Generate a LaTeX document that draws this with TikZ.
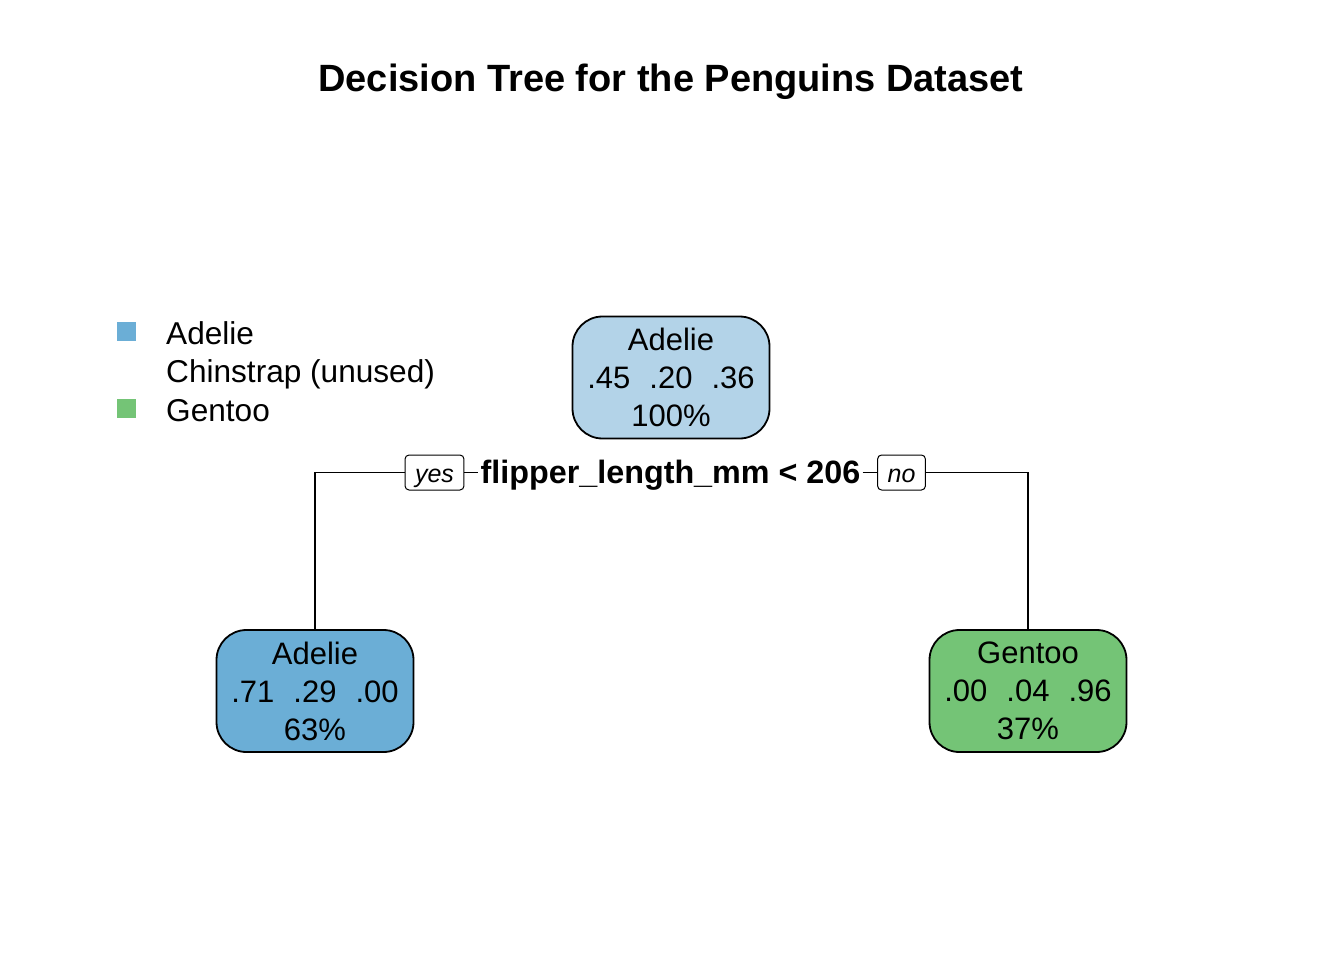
\documentclass[tikz,border=0pt]{standalone}
\usepackage{fontspec}
\setmainfont{Liberation Sans}
\usepackage{tikz}

\definecolor{rootblue}{RGB}{179,211,232}
\definecolor{adelieblue}{RGB}{107,174,214}
\definecolor{gentoogreen}{RGB}{116,196,118}

\newcommand{\gap}{\hspace{19pt}}

\begin{document}
\begin{tikzpicture}[x=1pt,y=-1pt,
  treebox/.style={draw=black, line width=1.8pt, rounded corners=30pt, minimum width=197pt, minimum height=122pt, inner sep=0pt, align=center, font=\fontsize{31}{38}\selectfont},
  yesno/.style={draw=black, line width=1pt, rounded corners=4pt, minimum height=35pt, text height=27pt, text depth=7pt, inner xsep=10pt, inner ysep=0pt, font=\fontsize{25}{30}\selectfont\itshape},
  legsq/.style={minimum size=19pt, inner sep=0pt},
  legtext/.style={anchor=base west, inner sep=0pt, font=\fontsize{31.6}{38}\selectfont},
  edge/.style={line width=1.4pt}]

\useasboundingbox (0,0) rectangle (1344,960);

\node[font=\fontsize{38}{44}\selectfont\bfseries] (title) at (671,82) {Decision Tree for the Penguins Dataset};

\node[legsq, fill=adelieblue] (sqA) at (126,331) {};
\node[legsq, fill=gentoogreen] (sqG) at (126,408) {};
\node[legtext] (legA) at (166,344) {Adelie};
\node[legtext] (legC) at (166,382.5) {Chinstrap (unused)};
\node[legtext] (legG) at (166,421) {Gentoo};

\node[treebox, fill=rootblue] (root) at (671,377.5) {Adelie\\.45\gap.20\gap.36\\100\%};
\node[treebox, fill=adelieblue] (left) at (315,691) {Adelie\\.71\gap.29\gap.00\\63\%};
\node[treebox, fill=gentoogreen] (right) at (1028,691) {Gentoo\\.00\gap.04\gap.96\\37\%};

\node[font=\fontsize{32.3}{38}\selectfont\bfseries, text height=26pt, text depth=4pt, inner xsep=2pt, inner ysep=0pt] (split) at (670.5,472.5) {flipper\_length\_mm < 206};
\node[yesno] (yes) at (434.5,472.5) {yes};
\node[yesno] (no) at (901.5,472.5) {no};

\draw[edge] (left.north) |- (yes.west);
\draw[edge] (yes.east) -- (split.west);
\draw[edge] (split.east) -- (no.west);
\draw[edge] (no.east) -| (right.north);

\end{tikzpicture}
\end{document}
